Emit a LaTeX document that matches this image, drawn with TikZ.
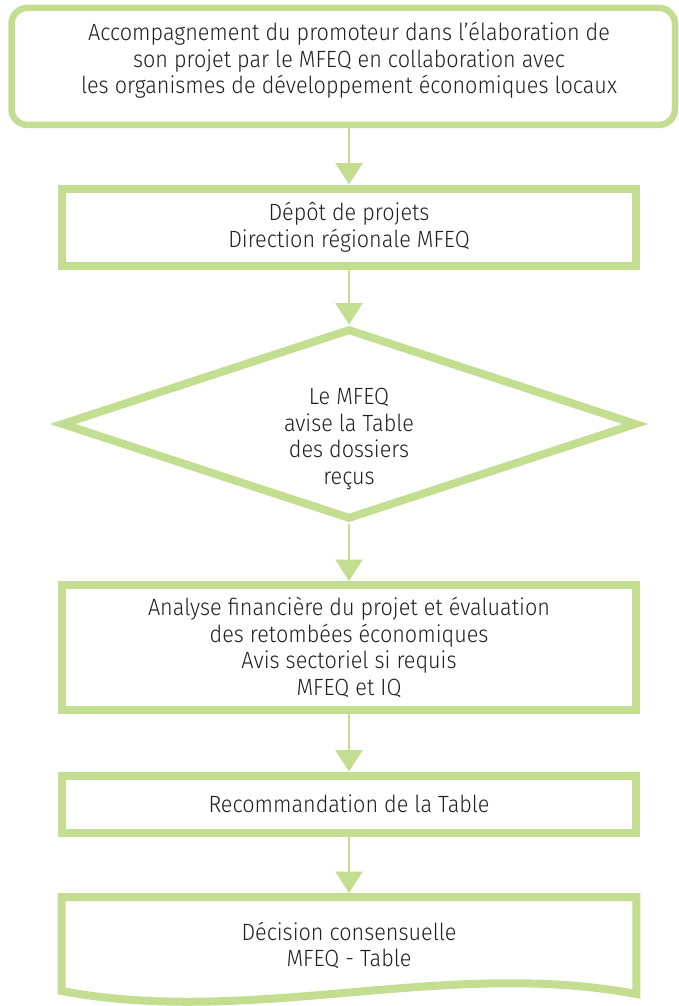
\documentclass[tikz,border=0pt]{standalone}
\usepackage{fontspec}
\setmainfont{Fira Sans Light}[FakeStretch=0.92]
\usetikzlibrary{arrows.meta,shapes.geometric}
\definecolor{grn}{HTML}{C3DE91}
\definecolor{txt}{HTML}{231F20}
\newcommand\fsz{\fontsize{23.5}{26.7}\selectfont}
\begin{document}
\begin{tikzpicture}[x=1pt,y=-1pt,
  box/.style={draw=grn, line width=8pt, inner sep=0pt, text=txt, align=center, font=\fsz},
  flow/.style={draw=grn, line width=2.5pt, -{Triangle[width=27pt,length=21.5pt]}},
  lbl/.style={text=txt, align=center, font=\fsz, inner sep=0pt}]
\useasboundingbox (0,0) rectangle (678,1006);
\fill[white] (0,0) rectangle (678,1006);

\node[box, line width=6.5pt, rounded corners=16pt, minimum width=663.5pt, minimum height=117pt] (b1) at (343.25,66.4) {};
\node[lbl] (t1) at (349,60.5) {Accompagnement du promoteur dans l’élaboration de\\son projet par le MFEQ en collaboration avec\\les organismes de développement économiques locaux};

\node[box, minimum width=574.6pt, minimum height=77pt] (b2) at (349,227) {Dépôt de projets\\Direction régionale MFEQ};

\node[diamond, draw=grn, line width=8pt, inner sep=0pt, minimum width=576pt, minimum height=191pt] (d) at (349,424) {};
\node[lbl] (dt) at (349,439) {Le MFEQ\\avise la Table\\des dossiers\\reçus};

\node[box, minimum width=574.6pt, minimum height=124.5pt] (b3) at (349,647.25) {Analyse financière du projet et évaluation\\des retombées économiques\\Avis sectoriel si requis\\MFEQ et IQ};

\node[box, minimum width=574.6pt, minimum height=57pt] (b4) at (349,804) {Recommandation de la Table};

\node[lbl, outer sep=4pt, minimum width=574.6pt, minimum height=97pt] (b5) at (349,945.5) {Décision consensuelle\\MFEQ - Table};
\draw[grn, line width=8pt, line join=miter] (61.7,897) -- (636.3,897) -- (636.3,994) .. controls (445,958) and (253,1027) .. (61.7,991) -- cycle;

\draw[flow] (t1 |- b1.south) -- (b2.north);
\draw[flow] (b2.south) -- (d.north);
\draw[flow] (d.south) -- (b3.north);
\draw[flow] (b3.south) -- (b4.north);
\draw[flow] (b4.south) -- (b5.north);
\end{tikzpicture}
\end{document}
